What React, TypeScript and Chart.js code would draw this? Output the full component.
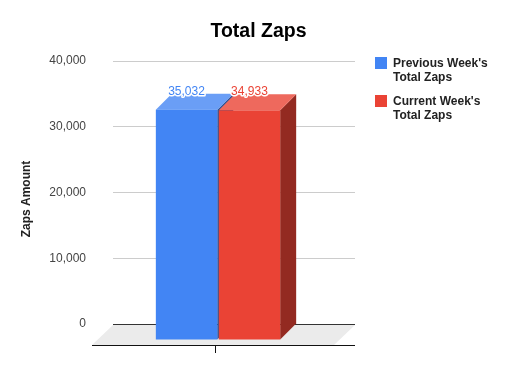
import React, { useEffect, useRef } from "react";
import { Chart, registerables } from "chart.js";

Chart.register(...registerables);

const categories: string[] = [""];
const previousWeek: number[] = [35032];
const currentWeek: number[] = [34933];
const seriesNames: string[][] = [
  ["Previous Week's", "Total Zaps"],
  ["Current Week's", "Total Zaps"],
];
const seriesColors = ["#4285f4", "#ea4335"];
const topColors = ["#6a9ef6", "#ee695d"];
const sideColors = ["#2a549a", "#932a21"];
const yMin = 0;
const yMax = 40000;
const yStep = 10000;
const chartTitle = "Total Zaps";
const yAxisTitle = "Zaps Amount";

const FONT = "'Liberation Sans', Arial, sans-serif";

const threeDPlugin = {
  id: "threeD",
  beforeDatasetsDraw(chart: any) {
    const ctx = chart.ctx;
    const { left, right } = chart.chartArea;
    const y = chart.scales.y;
    const base = y.getPixelForValue(0);
    const fd = 21;
    ctx.save();
    // floor
    ctx.fillStyle = "#ebebeb";
    ctx.beginPath();
    ctx.moveTo(left, base + 1);
    ctx.lineTo(right, base + 1);
    ctx.lineTo(right - fd, base + fd);
    ctx.lineTo(left - fd, base + fd);
    ctx.closePath();
    ctx.fill();
    // back zero line
    ctx.strokeStyle = "#333";
    ctx.lineWidth = 1;
    ctx.beginPath();
    ctx.moveTo(left, Math.round(base) + 0.5);
    ctx.lineTo(right, Math.round(base) + 0.5);
    ctx.stroke();
    // front axis line
    ctx.strokeStyle = "#111";
    ctx.beginPath();
    ctx.moveTo(left - fd, Math.round(base + fd) + 0.5);
    ctx.lineTo(right, Math.round(base + fd) + 0.5);
    ctx.stroke();
    // category tick
    const cx = Math.round(chart.scales.x.getPixelForValue(0) - 19) + 0.5;
    ctx.beginPath();
    ctx.moveTo(cx, Math.round(base + fd));
    ctx.lineTo(cx, Math.round(base + fd) + 8);
    ctx.stroke();
    ctx.restore();
  },
  afterDatasetsDraw(chart: any) {
    const ctx = chart.ctx;
    const d = 16;
    ctx.save();
    chart.data.datasets.forEach((ds: any, i: number) => {
      const meta = chart.getDatasetMeta(i);
      meta.data.forEach((el: any, j: number) => {
        const xl = el.x - el.width / 2;
        const xr = el.x + el.width / 2;
        const yT = el.y;
        const yB = el.base;
        // side
        ctx.fillStyle = sideColors[i];
        ctx.beginPath();
        ctx.moveTo(xr - d, yT + d);
        ctx.lineTo(xr, yT);
        ctx.lineTo(xr, yB);
        ctx.lineTo(xr - d, yB + d);
        ctx.closePath();
        ctx.fill();
        // top
        ctx.fillStyle = topColors[i];
        ctx.beginPath();
        ctx.moveTo(xl - d, yT + d);
        ctx.lineTo(xr - d, yT + d);
        ctx.lineTo(xr, yT);
        ctx.lineTo(xl, yT);
        ctx.closePath();
        ctx.fill();
        // front
        ctx.fillStyle = seriesColors[i];
        ctx.fillRect(xl - d, yT + d, xr - xl, yB - yT);
        // value label
        const txt = Number(ds.data[j]).toLocaleString("en-US");
        ctx.font = `12px ${FONT}`;
        ctx.textAlign = "center";
        ctx.textBaseline = "alphabetic";
        ctx.lineWidth = 3;
        ctx.lineJoin = "round";
        ctx.strokeStyle = "#ffffff";
        const lx = el.x - d;
        const ly = yT + 1;
        ctx.strokeText(txt, lx, ly);
        ctx.fillStyle = seriesColors[i];
        ctx.fillText(txt, lx, ly);
      });
    });
    ctx.restore();
  },
  afterDraw(chart: any) {
    const ctx = chart.ctx;
    // chart title
    ctx.save();
    ctx.font = `bold 19.5px ${FONT}`;
    ctx.fillStyle = "#000";
    ctx.textAlign = "center";
    ctx.textBaseline = "alphabetic";
    ctx.fillText(chartTitle, 258.5, 37);
    ctx.restore();
    // y axis title
    ctx.save();
    ctx.font = `bold 12px ${FONT}`;
    ctx.fillStyle = "#222";
    ctx.textAlign = "center";
    ctx.textBaseline = "middle";
    ctx.translate(27, 199);
    ctx.rotate(-Math.PI / 2);
    ctx.fillText(yAxisTitle, 0, 0);
    ctx.restore();
    // legend
    ctx.save();
    ctx.font = `bold 12px ${FONT}`;
    ctx.textAlign = "left";
    ctx.textBaseline = "alphabetic";
    const lx = 375;
    const tops = [57, 95];
    seriesNames.forEach((lines, i) => {
      ctx.fillStyle = seriesColors[i];
      ctx.fillRect(lx, tops[i], 12, 12);
      ctx.fillStyle = "#222";
      lines.forEach((ln, k) => {
        ctx.fillText(ln, 393, tops[i] + 10 + k * 13.5);
      });
    });
    ctx.restore();
  },
};

export default function App() {
  const ref = useRef<HTMLCanvasElement | null>(null);
  useEffect(() => {
    if (!ref.current) return;
    const chart = new Chart(ref.current, {
      type: "bar",
      data: {
        labels: categories,
        datasets: [
          {
            label: seriesNames[0].join(" "),
            data: previousWeek,
            backgroundColor: "rgba(0,0,0,0)",
            borderWidth: 0,
          },
          {
            label: seriesNames[1].join(" "),
            data: currentWeek,
            backgroundColor: "rgba(0,0,0,0)",
            borderWidth: 0,
          },
        ],
      },
      options: {
        responsive: false,
        animation: false,
        events: [],
        layout: { padding: { left: 0, right: 162, top: 61, bottom: 47 } },
        datasets: { bar: { categoryPercentage: 0.52, barPercentage: 0.976 } },
        plugins: {
          legend: { display: false },
          tooltip: { enabled: false },
          title: { display: false },
        },
        scales: {
          x: { display: false },
          y: {
            min: yMin,
            max: yMax,
            afterFit: (scale: any) => {
              scale.width = 113;
            },
            border: { display: false },
            grid: {
              drawTicks: false,
              color: (c: any) => (c.tick && c.tick.value === 0 ? "rgba(0,0,0,0)" : "#cccccc"),
              lineWidth: 1,
            },
            ticks: {
              stepSize: yStep,
              padding: 27,
              color: "#444",
              font: { family: FONT, size: 12 },
              callback: (v: any) => Number(v).toLocaleString("en-US"),
            },
          },
        },
      },
      plugins: [threeDPlugin],
    });
    return () => chart.destroy();
  }, []);
  return (
    <div style={{ position: "fixed", left: 0, top: 0, width: 517, height: 371, background: "#fff" }}>
      <canvas ref={ref} width={517} height={371} style={{ display: "block" }} />
    </div>
  );
}
